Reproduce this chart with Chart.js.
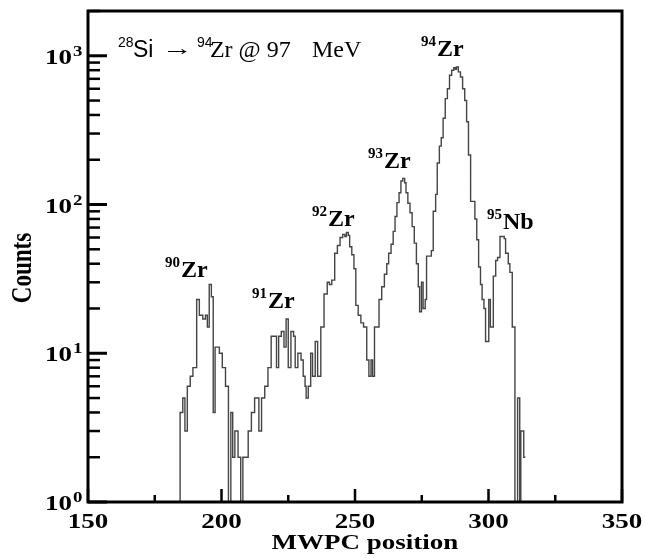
<!DOCTYPE html>
<html>
<head>
<meta charset="utf-8">
<title>MWPC position spectrum</title>
<script src="https://cdn.jsdelivr.net/npm/chart.js@4.4.1/dist/chart.umd.min.js"></script>
<style>
  html, body { margin: 0; padding: 0; background: #fff; }
  #wrap { width: 645px; height: 558px; }
</style>
</head>
<body>
<div id="wrap"><canvas id="spectrum" width="645" height="558"></canvas></div>
<script>
// Data: step histogram, counts[i] holds from edges[i] to edges[i + 1]
const edges = [
  184.5, 185.5, 186.3, 187.2, 188.3, 189.3, 190.7, 191.7, 193.0, 194.0,
  194.7, 195.4, 196.2, 196.9, 197.6, 199.2, 200.3, 201.5, 202.6, 203.5,
  204.2, 205.0, 206.2, 207.2, 208.0, 210.0, 211.2, 212.4, 214.0, 215.0,
  216.2, 217.4, 218.6, 220.6, 221.4, 222.4, 223.4, 224.2, 225.0, 226.0,
  227.0, 227.6, 228.6, 229.8, 230.6, 231.3, 231.7, 232.5, 233.4, 234.1,
  235.1, 236.0, 237.2, 238.4, 239.6, 240.4, 241.3, 242.4, 243.4, 244.4,
  245.4, 246.2, 246.8, 247.5, 248.0, 248.8, 249.6, 250.3, 251.2, 252.2,
  253.2, 254.4, 255.2, 256.0, 256.6, 257.3, 259.0, 260.0, 261.0, 261.9,
  262.6, 263.5, 264.3, 265.0, 265.7, 266.5, 267.2, 267.9, 268.6, 269.1,
  269.8, 270.6, 271.4, 272.2, 273.0, 273.7, 274.2, 274.9, 275.5, 276.3,
  276.8, 278.6, 279.3, 280.2, 280.8, 281.6, 282.3, 283.0, 283.8, 284.6,
  285.4, 286.2, 287.0, 287.6, 288.0, 288.7, 289.5, 290.3, 291.1, 291.8,
  292.5, 293.3, 294.9, 295.6, 296.3, 297.0, 297.6, 298.3, 298.9, 300.1,
  300.7, 301.8, 302.7, 303.4, 304.3, 305.9, 306.4, 307.4, 308.0, 308.9,
  309.9, 310.9, 311.7, 312.1, 313.2
];
const counts = [
  4, 5, 3, 6, 7, 8, 23, 18, 17, 18,
  15, 29, 24, 4, 11, 10, 8, 6, 1, 4,
  2, 3, 2, 1, 2, 3, 4, 5, 3, 5,
  6, 8, 13, 8, 13, 14, 11, 17, 8, 14,
  13, 8, 10, 9, 7, 6, 5, 6, 10, 7,
  12, 7, 15, 25, 30, 29, 31, 47, 53, 60,
  63, 61, 65, 62, 52, 46, 37, 21, 18, 16,
  15, 9, 7, 9, 7, 15, 23, 28, 34, 40,
  47, 54, 66, 83, 103, 120, 144, 150, 140, 120,
  102, 88, 71, 55, 40, 28, 19, 30, 20, 23,
  45, 49, 90, 117, 190, 247, 281, 380, 515, 600,
  740, 800, 830, 810, 840, 780, 720, 600, 500, 360,
  215, 105, 80, 58, 38, 29, 23, 20, 12, 23,
  15, 33, 42, 44, 61, 59, 47, 40, 35, 15,
  1, 5, 1, 3, 2
];
const histEnd = 313.8;

// Axis ticks
const xMajorTicks = [150, 200, 250, 300, 350];
const xMinorTicks = [175, 225, 275, 325];
const yDecades = [1, 10, 100, 1000];
const yExponents = ["0", "1", "2", "3"];
const yMinorSteps = [2, 3, 4, 5, 6, 7, 8, 9];

// Peak labels
const peakMasses = ["90", "91", "92", "93", "94", "95"];
const peakElements = ["Zr", "Zr", "Zr", "Zr", "Zr", "Nb"];

// Where the peak labels sit (axis units: left edge, baseline)
const peakSpots = [
  { x: 178.8, y: 32.7 },
  { x: 211.4, y: 20.3 },
  { x: 233.9, y: 72.2 },
  { x: 254.9, y: 177 },
  { x: 274.7, y: 992 },
  { x: 299.4, y: 68.9 },
];

const SERIF = "'Liberation Serif', 'Times New Roman', serif";
const SANS = "'Liberation Sans', Arial, sans-serif";
const STRETCH = 1.35;

// Histogram outline points
const points = [{ x: edges[0], y: 1 }];
edges.forEach((e, i) => points.push({ x: e, y: counts[i] }));
points.push({ x: histEnd, y: counts[counts.length - 1] });

function drawText(ctx, text, x, y, font, align, sx) {
  ctx.save();
  ctx.translate(x, y);
  ctx.scale(sx || 1, 1);
  ctx.font = font;
  ctx.textAlign = align || "left";
  ctx.textBaseline = "alphabetic";
  ctx.fillText(text, 0, 0);
  ctx.restore();
}

function tick(ctx, x1, y1, x2, y2) {
  ctx.beginPath();
  ctx.moveTo(x1, y1);
  ctx.lineTo(x2, y2);
  ctx.stroke();
}

const framePlugin = {
  id: "frame",
  afterDatasetsDraw(chart) {
    const { ctx, chartArea: a, scales } = chart;
    const x = scales.x;
    const y = scales.y;
    ctx.save();
    ctx.fillStyle = "#000";
    ctx.strokeStyle = "#000";

    // box
    ctx.lineWidth = 3;
    ctx.strokeRect(a.left, a.top, a.right - a.left, a.bottom - a.top);

    // x ticks (inward)
    ctx.lineWidth = 2.5;
    xMajorTicks.forEach((v) => {
      const px = x.getPixelForValue(v);
      tick(ctx, px, a.bottom, px, a.bottom - 13);
    });
    xMinorTicks.forEach((v) => {
      const px = x.getPixelForValue(v);
      tick(ctx, px, a.bottom, px, a.bottom - 7);
    });

    // y ticks (inward)
    yDecades.forEach((d) => {
      const py = y.getPixelForValue(d);
      ctx.lineWidth = 3;
      tick(ctx, a.left, py, a.left + 19, py);
      ctx.lineWidth = 2.5;
      yMinorSteps.forEach((m) => {
        const v = d * m;
        if (v > y.max) return;
        const pm = y.getPixelForValue(v);
        tick(ctx, a.left, pm, a.left + 12, pm);
      });
    });

    // x tick labels
    xMajorTicks.forEach((v) => {
      drawText(ctx, String(v), x.getPixelForValue(v), 528, "bold 20px " + SERIF, "center", STRETCH);
    });

    // y tick labels: 10 with superscript exponent
    yDecades.forEach((d, i) => {
      const py = y.getPixelForValue(d) + 8;
      drawText(ctx, "10", a.left - 16, py, "bold 20px " + SERIF, "right", STRETCH);
      drawText(ctx, yExponents[i], a.left - 15, py - 8, "bold 14px " + SERIF, "left", STRETCH);
    });

    // axis titles
    drawText(ctx, "MWPC position", 365, 549, "bold 20px " + SERIF, "center", STRETCH);
    ctx.save();
    ctx.translate(31, 268);
    ctx.rotate(-Math.PI / 2);
    ctx.scale(1, 1.3);
    ctx.font = "bold 23px " + SERIF;
    ctx.textAlign = "center";
    ctx.textBaseline = "alphabetic";
    ctx.fillText("Counts", 0, 0);
    ctx.restore();

    // peak labels
    peakSpots.forEach((s, i) => {
      const px = x.getPixelForValue(s.x);
      const py = y.getPixelForValue(s.y);
      ctx.font = "bold 15px " + SERIF;
      const w = ctx.measureText(peakMasses[i]).width;
      drawText(ctx, peakMasses[i], px, py - 10, "bold 15px " + SERIF, "left");
      drawText(ctx, peakElements[i], px + w + 1, py, "bold 24px " + SERIF, "left");
    });

    // reaction annotation
    const rx = x.getPixelForValue(161.2);
    const ry = y.getPixelForValue(977);
    drawText(ctx, "28", rx, ry - 10, "14px " + SANS);
    drawText(ctx, "Si", rx + 15, ry, "23px " + SANS);
    ctx.font = "22px " + SERIF;
    const arrowW = ctx.measureText("\u2192").width;
    drawText(ctx, "\u2192", rx + 44, ry - 2, "22px " + SERIF, "left", 31 / arrowW);
    drawText(ctx, "94", rx + 79, ry - 10, "14px " + SANS);
    drawText(ctx, "Zr @ 97", rx + 92, ry, "24px " + SERIF);
    drawText(ctx, "MeV", rx + 194, ry, "24px " + SERIF);

    ctx.restore();
  },
};

new Chart(document.getElementById("spectrum"), {
  type: "line",
  data: {
    datasets: [
      {
        data: points,
        stepped: true,
        borderColor: "#454545",
        borderWidth: 1.4,
        pointRadius: 0,
        fill: false,
      },
    ],
  },
  options: {
    responsive: false,
    animation: false,
    events: [],
    layout: { padding: { left: 0, top: 11, right: 23, bottom: 0 } },
    plugins: { legend: { display: false }, tooltip: { enabled: false } },
    scales: {
      x: {
        type: "linear",
        min: 150,
        max: 350,
        grid: { display: false },
        border: { display: false },
        ticks: { display: false },
        afterFit: (s) => { s.height = 56; },
      },
      y: {
        type: "logarithmic",
        min: 1,
        max: 2000,
        grid: { display: false },
        border: { display: false },
        ticks: { display: false },
        afterFit: (s) => { s.width = 88; },
      },
    },
  },
  plugins: [framePlugin],
});
</script>
</body>
</html>
